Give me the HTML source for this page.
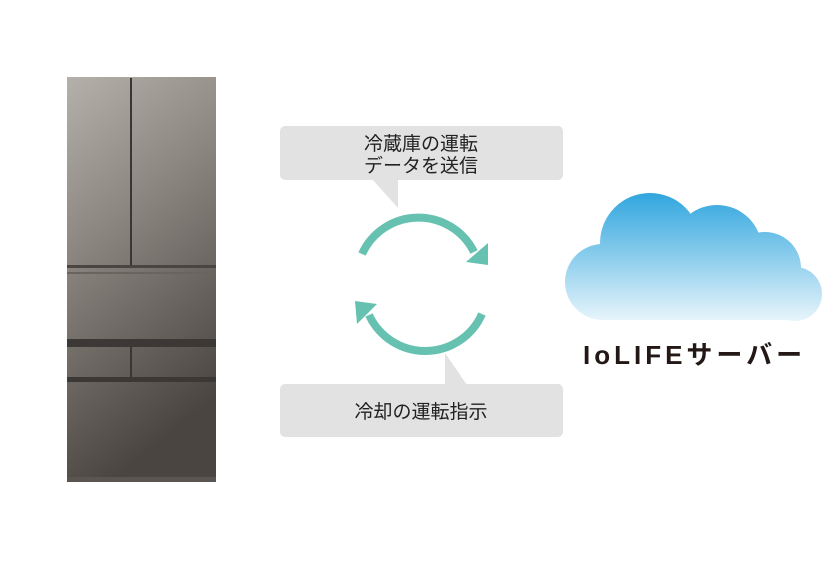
<!DOCTYPE html>
<html><head><meta charset="utf-8"><style>
body{margin:0;background:#fff;}
svg{display:block}
text{font-family:"Liberation Sans","Noto Sans CJK JP",sans-serif;}
</style></head><body>
<svg width="824" height="564" viewBox="0 0 824 564" xmlns="http://www.w3.org/2000/svg">
<defs>
<linearGradient id="fr" x1="0" y1="0" x2="0.3" y2="1">
<stop offset="0" stop-color="#b4b0aa"/><stop offset="0.4" stop-color="#8d8781"/><stop offset="1" stop-color="#4a4541"/>
</linearGradient>
<linearGradient id="cl" gradientUnits="userSpaceOnUse" x1="0" y1="192" x2="0" y2="320">
<stop offset="0" stop-color="#2fa5de"/><stop offset="1" stop-color="#e6f4fb"/>
</linearGradient>
<clipPath id="cc"><rect x="550" y="180" width="274" height="141"/></clipPath>
</defs>
<!-- fridge -->
<rect x="67" y="77" width="149" height="405" fill="url(#fr)"/>
<rect x="130" y="78" width="2" height="188" fill="#3a3633"/>
<rect x="67" y="265" width="149" height="3" fill="#4a4541"/>
<rect x="67" y="272" width="149" height="2" fill="#6a645f"/>
<rect x="67" y="339" width="149" height="8" fill="#3c3835"/>
<rect x="130" y="347" width="2" height="31" fill="#3a3633"/>
<rect x="67" y="377" width="149" height="5" fill="#3c3835"/>
<rect x="67" y="477" width="149" height="5" fill="#5a5551"/>
<!-- bubbles -->
<rect x="280" y="126" width="283" height="54" rx="5" fill="#e2e2e2"/>
<polygon points="372,179 398,179 398,208" fill="#e2e2e2"/>
<text x="421" y="150" font-size="19" text-anchor="middle" fill="#222">冷蔵庫の運転</text>
<text x="421" y="172" font-size="19" text-anchor="middle" fill="#222">データを送信</text>
<rect x="280" y="384" width="283" height="53" rx="5" fill="#e2e2e2"/>
<polygon points="445,385 467,385 445,353" fill="#e2e2e2"/>
<text x="421" y="418" font-size="19" text-anchor="middle" fill="#222">冷却の運転指示</text>
<!-- arrows -->
<path d="M362,254 A62,62 0 0 1 474,252" fill="none" stroke="#66c1b0" stroke-width="8"/>
<polygon points="466,262 488,243 488,265" fill="#66c1b0"/>
<path d="M482,314 A62,62 0 0 1 369,315" fill="none" stroke="#66c1b0" stroke-width="8"/>
<polygon points="355,301 377,304 357,324" fill="#66c1b0"/>
<!-- cloud -->
<g clip-path="url(#cc)" fill="url(#cl)">
<circle cx="603" cy="282" r="38"/>
<circle cx="650" cy="243" r="50"/>
<circle cx="717" cy="250" r="45"/>
<circle cx="765" cy="268" r="36"/>
<circle cx="795" cy="294" r="27"/>
<rect x="603" y="250" width="192" height="70"/>
</g>
<text x="583" y="364" font-size="26" font-weight="bold" fill="#231815" letter-spacing="4">IoLIFEサーバー</text>
</svg>
</body></html>
